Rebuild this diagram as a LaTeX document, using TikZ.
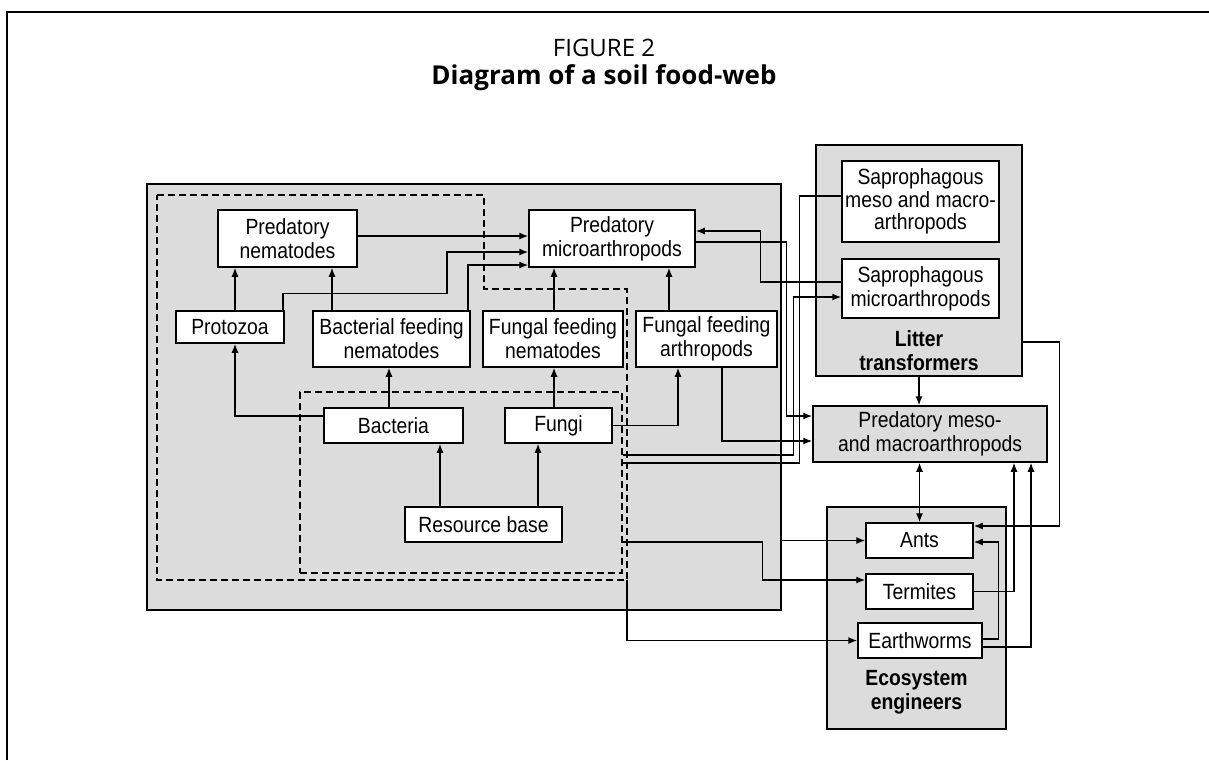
\documentclass[tikz,border=0pt]{standalone}
\usepackage{fontspec}
\setmainfont{Liberation Sans}[FakeStretch=0.88]
\newfontfamily\titlefont{Open Sans}
\usetikzlibrary{arrows.meta}
\definecolor{soilgrey}{RGB}{220,220,220}

\begin{document}
\begin{tikzpicture}[x=1pt, y=-1pt,
    every node/.style={font=\fontsize{22}{24}\selectfont, align=center, inner sep=0pt},
    box/.style={draw, fill=white, line width=1.5pt},
    group/.style={draw, fill=soilgrey, line width=1.5pt},
    pool/.style={draw, line width=1.4pt, dash pattern=on 7pt off 4pt},
    wire/.style={line width=1.3pt},
    link/.style={wire, -{Latex[length=9pt,width=7pt]}},
    heading/.style={font=\fontsize{22}{24}\selectfont\bfseries}]

  \useasboundingbox (0,0) rectangle (1209,760);
  \draw[line width=2pt] (7,760) -- (7,12) -- (1209,12);

  % title
  \node[font=\titlefont\fontsize{24}{26}\selectfont] (fig) at (604,48) {FIGURE 2};
  \node[font=\titlefont\fontsize{26}{28}\selectfont\bfseries] (caption) at (604,78) {Diagram of a soil food-web};

  % compartments
  \node[group, minimum width=634pt, minimum height=426pt] (soil) at (464,397) {};
  \node[group, minimum width=206pt, minimum height=231pt] (litter) at (919,260.5) {};
  \node[group, minimum width=179pt, minimum height=222pt] (engin) at (916.5,618) {};
  \draw[pool] (157,195) -- (484,195) -- (484,289) -- (627,289) -- (627,580) coordinate (outer) -- (157,580) -- cycle;
  \node[pool, minimum width=322pt, minimum height=181pt] (inner) at (461,482.5) {};

  \node[heading] (littertxt) at (919,350.5) {Litter\\transformers};
  \node[heading] (engintxt) at (916.5,692) {Ecosystem\\engineers};

  % soil food web
  \node[box, minimum width=139pt, minimum height=57pt] (prednem) at (287.5,238.5) {Predatory\\nematodes};
  \node[box, minimum width=166pt, minimum height=57pt] (predmicro) at (612,238.5) {Predatory\\microarthropods};
  \node[box, minimum width=108pt, minimum height=32pt] (proto) at (230,327) {Protozoa};
  \node[box, minimum width=157pt, minimum height=56pt] (bfn) at (391.5,339) {Bacterial feeding\\nematodes};
  \node[box, minimum width=140pt, minimum height=56pt] (ffn) at (553,339) {Fungal feeding\\nematodes};
  \node[box, minimum width=141pt, minimum height=56pt] (ffa) at (706.5,339) {Fungal feeding\\arthropods};
  \node[box, minimum width=139pt, minimum height=35pt] (bact) at (393.5,425.5) {Bacteria};
  \node[box, minimum width=107pt, minimum height=35pt] (fungi) at (558.5,425.5) {Fungi};
  \node[box, minimum width=157pt, minimum height=35pt] (resbase) at (483.5,524.5) {Resource base};

  % litter and engineers
  \node[box, minimum width=157pt, minimum height=81pt, font=\fontsize{22}{22.5}\selectfont] (sapmacro) at (920.5,201.5) {Saprophagous\\meso and macro-\\arthropods};
  \node[box, minimum width=157pt, minimum height=59pt] (sapmicro) at (920.5,288.5) {Saprophagous\\microarthropods};
  \node[group, minimum width=234pt, minimum height=56pt] (predmacro) at (930,434) {Predatory meso-\\and macroarthropods};
  \node[box, minimum width=107pt, minimum height=35pt] (ants) at (919.5,540.5) {Ants};
  \node[box, minimum width=107pt, minimum height=35pt] (termites) at (919.5,591.5) {Termites};
  \node[box, minimum width=124pt, minimum height=35pt] (worms) at (920,640.5) {Earthworms};

  % feeding links
  \draw[link] ([xshift=5pt]proto.north) -- ([xshift=5pt]proto.north |- prednem.south);
  \draw[link] ([xshift=-59.5pt]bfn.north) -- ([xshift=-59.5pt]bfn.north |- prednem.south);
  \draw[link] ([yshift=9.5pt]bact.west) -| ([xshift=5pt]proto.south);
  \draw[link] ([xshift=-4.5pt]bact.north) -- ([xshift=-4.5pt]bact.north |- bfn.south);
  \draw[link] ([xshift=-43.5pt]resbase.north) -- ([xshift=-43.5pt]resbase.north |- bact.south);
  \draw[link] ([xshift=54.5pt]resbase.north) -- ([xshift=54.5pt]resbase.north |- fungi.south);
  \draw[link] ([xshift=-4.5pt]fungi.north) -- ([xshift=-4.5pt]fungi.north |- ffn.south);
  \draw[link] (fungi.east) -| ([xshift=-28.5pt]ffa.south);
  \draw[link] ([xshift=1pt]ffn.north) -- ([xshift=1pt]ffn.north |- predmicro.south);
  \draw[link] ([xshift=-37.5pt]ffa.north) -- ([xshift=-37.5pt]ffa.north |- predmicro.south);
  \draw[link] ([yshift=2.5pt]prednem.east) -- ([yshift=2.5pt]prednem.east -| predmicro.west);
  \draw[link] ([xshift=53pt]proto.north) -- ++(0,-17) -- ++(164,0) |- ([yshift=-13.5pt]predmicro.west);
  \draw[link] ([xshift=76.5pt]bfn.north) |- ([yshift=-26.5pt]predmicro.west);

  % links to the right
  \draw[link] ([yshift=6.5pt]sapmicro.west) -- ++(-81,0) |- ([yshift=7.5pt]predmicro.east);
  \draw[link] ([yshift=-3.5pt]predmicro.east) -- ++(91,0) |- ([yshift=18pt]predmacro.west);
  \draw[wire] ([yshift=5.5pt]sapmacro.west) -- ++(-42,0) |- ([yshift=19.5pt]inner.east);
  \draw[link] ([yshift=27.5pt]inner.east) -- ++(171,0) |- ([yshift=-8.5pt]sapmicro.west);
  \draw[link] ([xshift=15.5pt]ffa.south) |- ([yshift=-7pt]predmacro.west);
  \draw[link] (litter.south) -- (litter.south |- predmacro.north);
  \draw[link] ([yshift=-81.5pt]litter.east) -- ++(37,0) |- ([yshift=14.5pt]ants.east);
  \draw[link, {Latex[length=9pt,width=7pt]}-{Latex[length=9pt,width=7pt]}] (predmacro.south -| ants.north) -- (ants.north);
  \draw[link] (termites.east) -| ([xshift=84pt]predmacro.south);
  \draw[link] ([yshift=1.5pt]worms.east) -- ++(16,0) |- ([yshift=-1.5pt]ants.east);
  \draw[link] ([yshift=-6.5pt]worms.east) -| ([xshift=101pt]predmacro.south);
  \draw[link] (soil.east |- ants.west) -- (ants.west);
  \draw[link] ([yshift=-59.5pt]inner.east) -- ++(140,0) |- ([yshift=11.5pt]termites.west);
  \draw[link] (outer) |- (worms.west);
\end{tikzpicture}
\end{document}
